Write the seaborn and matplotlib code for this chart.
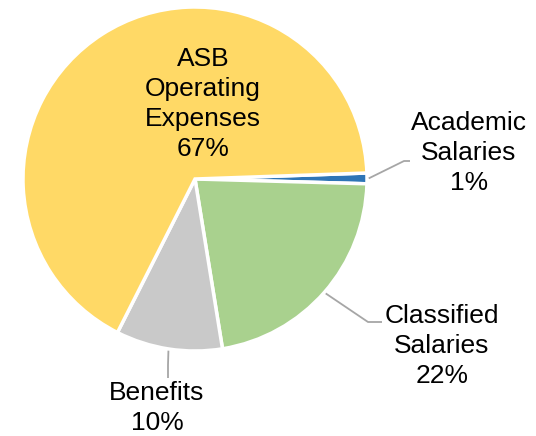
import numpy as np
import matplotlib
matplotlib.use("Agg")
import matplotlib.pyplot as plt
import seaborn as sns

# ── data ────────────────────────────────────────────────────────────────────
categories = ["Academic\nSalaries", "Classified\nSalaries", "Benefits",
              "ASB\nOperating\nExpenses"]
shares     = [1, 22, 10, 67]
colors     = ["#2E75B6", "#A9D18E", "#C9C9C9", "#FFD966"]

sns.set_style("white")
plt.rcParams["font.family"] = ["Liberation Sans", "DejaVu Sans"]

W, H, R_PX = 536, 436, 172          # figure px, pie radius px
CX, CY = 195, 179                   # pie centre (px from top-left)

fig = plt.figure(figsize=(W / 100, H / 100), dpi=100)
ax = fig.add_axes([0, 0, 1, 1])
wedges, _ = ax.pie(shares, colors=colors, startangle=2, counterclock=False,
                   wedgeprops=dict(edgecolor="white", linewidth=2.5))
ax.set_xlim(-CX / R_PX, (W - CX) / R_PX)
ax.set_ylim(-(H - CY) / R_PX, CY / R_PX)
ax.set_aspect("equal")
ax.axis("off")

def px(x, y):
    return (x - CX) / R_PX, (CY - y) / R_PX

# label layout: text centre, leader-line bend, leader-line end (px)
layout = [
    dict(text=(469, 153), bend=(404, 161), end=(410, 161)),
    dict(text=(442, 346), bend=(368, 322), end=(382, 322)),
    dict(text=(157, 408), bend=(168, 365), end=(168, 378)),
    dict(text=(203, 104), bend=None, end=None),
]

fs = 19
for w, cat, pct, lay in zip(wedges, categories, shares, layout):
    label = f"{cat}\n{pct}%"
    tx, ty = px(*lay["text"])
    ax.text(tx, ty, label, ha="center", va="center", fontsize=fs,
            linespacing=1.3, color="black")
    if lay["end"] is None:
        continue
    mid = np.deg2rad((w.theta1 + w.theta2) / 2)
    sx, sy = 1.01 * np.cos(mid), 1.01 * np.sin(mid)
    bx, by = px(*lay["bend"])
    ex, ey = px(*lay["end"])
    ax.plot([sx, bx, ex], [sy, by, ey], color="#A6A6A6", lw=1.3,
            solid_capstyle="butt")

fig.savefig("out.png", dpi=100)
plt.close(fig)
